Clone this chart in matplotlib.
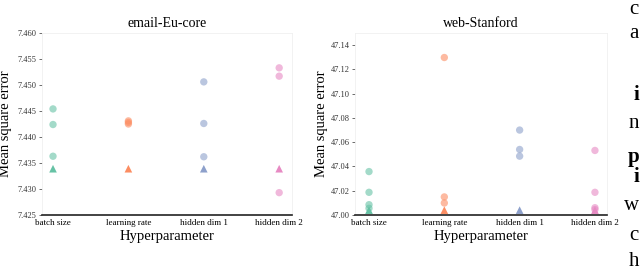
import matplotlib
matplotlib.use("Agg")
import matplotlib.pyplot as plt

plt.rcParams["font.family"] = ["Liberation Serif", "DejaVu Serif"]

params = ["batch size", "learning rate", "hidden dim 1", "hidden dim 2"]
colors = ["#66c2a5", "#fc8d62", "#8da0cb", "#e78ac3"]

# email-Eu-core: runs per hyperparameter (circles) and the default setting (triangle)
email_runs = [
    [7.4454, 7.4424, 7.4363],
    [7.4425, 7.4428, 7.4431],
    [7.4506, 7.4426, 7.4362],
    [7.4533, 7.4517, 7.4293],
]
email_default = [7.4339, 7.4339, 7.4339, 7.4339]
email_yticks = [7.425, 7.430, 7.435, 7.440, 7.445, 7.450, 7.455, 7.460]

# web-Stanford
web_runs = [
    [47.0358, 47.0187, 47.0085, 47.0055],
    [47.1298, 47.0149, 47.0099],
    [47.0700, 47.0540, 47.0485],
    [47.0532, 47.0187, 47.0060, 47.0045],
]
web_default = [47.004, 47.004, 47.004, 47.004]
web_yticks = [47.00, 47.02, 47.04, 47.06, 47.08, 47.10, 47.12, 47.14]

W, H = 640, 272
fig = plt.figure(figsize=(6.4, 2.72), dpi=100)


def make_panel(rect, title, runs, default, yticks, ylim, xlim, fmt, ylab_x):
    ax = fig.add_axes(rect)
    for i, vals in enumerate(runs):
        ax.scatter([i] * len(vals), vals, s=28, color=colors[i], alpha=0.6,
                   edgecolors="none", zorder=3)
        ax.scatter([i], [default[i]], s=30, marker="^", color=colors[i],
                   edgecolors="none", zorder=4)
    ax.set_xlim(*xlim)
    ax.set_ylim(*ylim)
    ax.set_xticks(range(len(params)))
    ax.set_xticklabels(params, fontsize=6.5)
    ax.set_yticks(yticks)
    ax.set_yticklabels([fmt.format(v) for v in yticks], fontsize=6, color="#333333")
    ax.tick_params(axis="x", length=0, pad=3)
    ax.tick_params(axis="y", length=2, width=0.6, pad=2, color="#555555")
    for s in ["top", "right", "left"]:
        ax.spines[s].set_color("#f0f0f0")
        ax.spines[s].set_linewidth(0.6)
    ax.spines["bottom"].set_color("#222222")
    ax.spines["bottom"].set_linewidth(1.2)
    ax.set_title(title, fontsize=10, pad=4)
    ax.set_xlabel("Hyperparameter", fontsize=10.5, labelpad=2)
    ax.set_ylabel("Mean square error", fontsize=10.5)
    ax.yaxis.set_label_coords(ylab_x, 0.5)
    return ax


make_panel([42 / W, 57 / H, 250 / W, 182 / H], "email-Eu-core", email_runs,
           email_default, email_yticks, (7.425, 7.460), (-0.146, 3.17),
           "{:.3f}", -0.12)
make_panel([355 / W, 57 / H, 252 / W, 182 / H], "web-Stanford", web_runs,
           web_default, web_yticks, (47.0, 47.15), (-0.186, 3.16),
           "{:.2f}", -0.107)

# body text from the page at the right edge
letters = ["c", "a", "i", "n", "p", "i", "w", "c", "h"]
ys = [10, 33, 95, 123, 157, 177, 205, 235, 262]
for ch, y in zip(letters, ys):
    fig.text(639 / W, 1 - y / H, ch, fontsize=15, va="center", ha="right",
             fontweight="bold" if ch in "ip" else "normal")

fig.savefig("out.png", dpi=100)
